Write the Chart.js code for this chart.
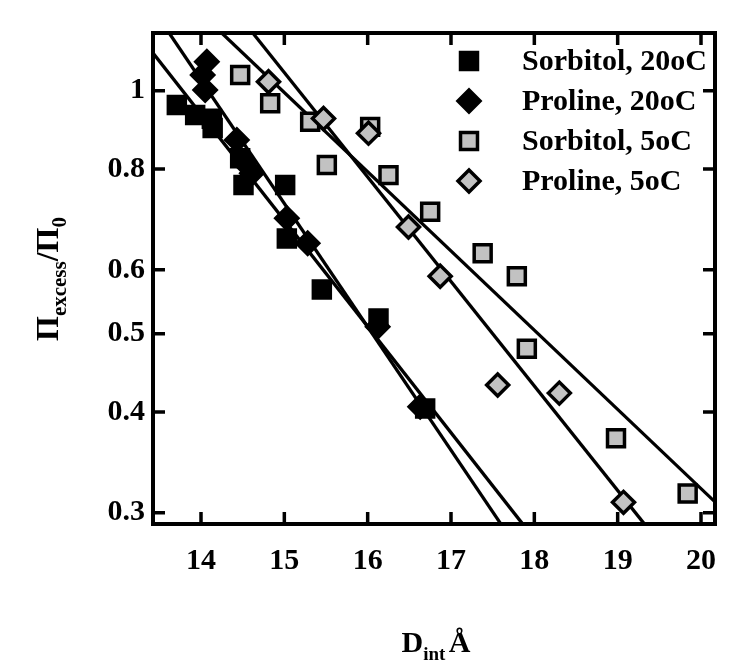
<!DOCTYPE html>
<html><head><meta charset="utf-8">
<script src="https://cdn.jsdelivr.net/npm/chart.js@4/dist/chart.umd.min.js"></script>
<style>html,body{margin:0;padding:0;background:#fff;}#wrap{width:750px;height:664px;position:relative;}</style>
</head><body><div id="wrap"><canvas id="c" width="750" height="664"></canvas></div>
<script>
// ---- data ----
const sorbitol20X = [13.71, 13.93, 14.13, 14.14, 14.47, 14.51, 15.01, 15.03, 15.45, 16.13, 16.69];
const sorbitol20Y = [0.960, 0.933, 0.923, 0.899, 0.825, 0.764, 0.764, 0.656, 0.567, 0.522, 0.404];
const proline20X = [14.07, 14.02, 14.05, 14.43, 14.52, 14.61, 15.03, 15.28, 16.12, 16.63];
const proline20Y = [1.086, 1.046, 1.002, 0.869, 0.815, 0.790, 0.695, 0.647, 0.510, 0.406];
const sorbitol5X = [14.47, 14.83, 15.31, 15.51, 16.03, 16.25, 16.75, 17.38, 17.79, 17.91, 18.98, 19.84];
const sorbitol5Y = [1.046, 0.965, 0.915, 0.809, 0.902, 0.786, 0.708, 0.629, 0.589, 0.479, 0.371, 0.317];
const proline5X = [14.81, 15.47, 16.01, 16.49, 16.87, 17.56, 18.30, 19.07];
const proline5Y = [1.026, 0.924, 0.886, 0.678, 0.589, 0.432, 0.422, 0.309];
// fitted straight lines (endpoints read at the frame edges)
const fitAX = [13.424, 17.861]; const fitAY = [1.1135, 0.2904];
const fitBX = [13.620, 17.600]; const fitBY = [1.178, 0.2904];
const fitCX = [14.252, 20.168]; const fitCY = [1.178, 0.3094];
const fitDX = [14.624, 19.322]; const fitDY = [1.178, 0.2904];
const seriesLabels = ['Sorbitol, 20oC', 'Proline, 20oC', 'Sorbitol, 5oC', 'Proline, 5oC'];
const xTicks = [14, 15, 16, 17, 18, 19, 20];
const yTicks = [0.3, 0.4, 0.5, 0.6, 0.8, 1];
const xRange = [13.424, 20.168];
const yRange = [0.2905, 1.179];

const pts = (xs, ys) => xs.map((x, i) => ({x: x, y: ys[i]}));
const GRAY = '#c2c2c2';
const FONT = 'Liberation Serif';

function markerSet(label, xs, ys, style, fill, order) {
  return {
    label: label, data: pts(xs, ys), showLine: false, order: order,
    pointStyle: style, pointRadius: style === 'rect' ? 12 : 11, pointHoverRadius: style === 'rect' ? 12 : 11,
    backgroundColor: fill, borderColor: '#000', pointBorderWidth: 3.5, borderWidth: 3.5, isMarker: true
  };
}
function fitSet(xs, ys) {
  return {
    label: 'fit', data: pts(xs, ys), showLine: true, order: 10, borderColor: '#000', borderWidth: 3.3,
    pointRadius: 0, fill: false, clip: 0, tension: 0
  };
}

const framePlugin = {
  id: 'frame',
  afterDatasetsDraw(chart) {
    const {ctx, chartArea: a, scales} = chart;
    const x = scales.x, y = scales.y;
    ctx.save();
    ctx.strokeStyle = '#000';
    ctx.lineWidth = 3.5;
    const L = 12;
    ctx.beginPath();
    x.ticks.forEach(t => {
      const p = x.getPixelForValue(t.value);
      ctx.moveTo(p, a.bottom); ctx.lineTo(p, a.bottom - L);
      ctx.moveTo(p, a.top); ctx.lineTo(p, a.top + L);
    });
    y.ticks.forEach(t => {
      const p = y.getPixelForValue(t.value);
      ctx.moveTo(a.left, p); ctx.lineTo(a.left + L, p);
      ctx.moveTo(a.right, p); ctx.lineTo(a.right - L, p);
    });
    ctx.stroke();
    ctx.lineWidth = 4;
    ctx.strokeRect(a.left, a.top, a.right - a.left, a.bottom - a.top);
    ctx.restore();
  }
};

function drawParts(ctx, parts, startX, baseY) {
  let cx = startX;
  parts.forEach(p => {
    ctx.font = 'bold ' + p[1] + 'px "' + FONT + '"';
    ctx.fillText(p[0], cx, baseY + p[2]);
    cx += ctx.measureText(p[0]).width;
  });
}
function partsWidth(ctx, parts) {
  let w = 0;
  parts.forEach(p => { ctx.font = 'bold ' + p[1] + 'px "' + FONT + '"'; w += ctx.measureText(p[0]).width; });
  return w;
}

const titlesPlugin = {
  id: 'titles',
  afterDraw(chart) {
    const ctx = chart.ctx;
    ctx.save();
    ctx.fillStyle = '#000';
    ctx.textBaseline = 'alphabetic';
    ctx.textAlign = 'left';
    // x title
    const xp = [['D', 30, 0], ['int', 19, 8], [' ', 14, 0], ['\u00C5', 30, 0]];
    const wx = partsWidth(ctx, xp);
    drawParts(ctx, xp, 436 - wx / 2, 652);
    // y title (rotated)
    const yp = [['\u03A0', 32, 0], ['excess', 21, 8], ['/', 32, 0], ['\u03A0', 32, 0], ['0', 21, 8]];
    const wy = partsWidth(ctx, yp);
    ctx.translate(58, 279);
    ctx.rotate(-Math.PI / 2);
    drawParts(ctx, yp, -wy / 2, 0);
    ctx.restore();
  }
};

const legendPlugin = {
  id: 'customLegend',
  afterDraw(chart) {
    const ctx = chart.ctx;
    const sets = chart.data.datasets.filter(d => d.isMarker);
    ctx.save();
    sets.forEach((d, i) => {
      const cy = 61 + i * 40;
      ctx.fillStyle = d.backgroundColor;
      ctx.strokeStyle = d.borderColor;
      ctx.lineWidth = d.pointBorderWidth;
      Chart.helpers.drawPoint(ctx, {pointStyle: d.pointStyle, radius: d.pointRadius, rotation: 0, borderWidth: d.pointBorderWidth}, 469, cy);
      ctx.fillStyle = '#000';
      ctx.font = 'bold 30px "' + FONT + '"';
      ctx.textBaseline = 'middle';
      ctx.textAlign = 'left';
      ctx.fillText(d.label, 522, cy + 1);
    });
    ctx.restore();
  }
};

new Chart(document.getElementById('c'), {
  type: 'scatter',
  data: {
    datasets: [
      markerSet(seriesLabels[0], sorbitol20X, sorbitol20Y, 'rect', '#000', 4),
      markerSet(seriesLabels[1], proline20X, proline20Y, 'rectRot', '#000', 3),
      markerSet(seriesLabels[2], sorbitol5X, sorbitol5Y, 'rect', GRAY, 2),
      markerSet(seriesLabels[3], proline5X, proline5Y, 'rectRot', GRAY, 1),
      fitSet(fitAX, fitAY), fitSet(fitBX, fitBY), fitSet(fitCX, fitCY), fitSet(fitDX, fitDY)
    ]
  },
  options: {
    responsive: false, animation: false, events: [],
    layout: {padding: {top: 33, right: 35, bottom: 0, left: 0}},
    plugins: {legend: {display: false}, tooltip: {enabled: false}},
    scales: {
      x: {
        type: 'linear', min: xRange[0], max: xRange[1],
        afterBuildTicks: s => { s.ticks = xTicks.map(v => ({value: v})); },
        afterFit: s => { s.height = 140; },
        grid: {display: false, drawTicks: false}, border: {display: false},
        ticks: {color: '#000', padding: 19, maxRotation: 0, autoSkip: false,
          font: {family: FONT, size: 30, weight: 'bold'}, callback: v => String(v)}
      },
      y: {
        type: 'logarithmic', min: yRange[0], max: yRange[1],
        afterBuildTicks: s => { s.ticks = yTicks.map(v => ({value: v})); },
        afterFit: s => { s.width = 153; },
        grid: {display: false, drawTicks: false}, border: {display: false},
        ticks: {color: '#000', padding: 8, autoSkip: false,
          font: {family: FONT, size: 30, weight: 'bold'}, callback: v => String(v)}
      }
    }
  },
  plugins: [framePlugin, titlesPlugin, legendPlugin]
});
</script></body></html>
